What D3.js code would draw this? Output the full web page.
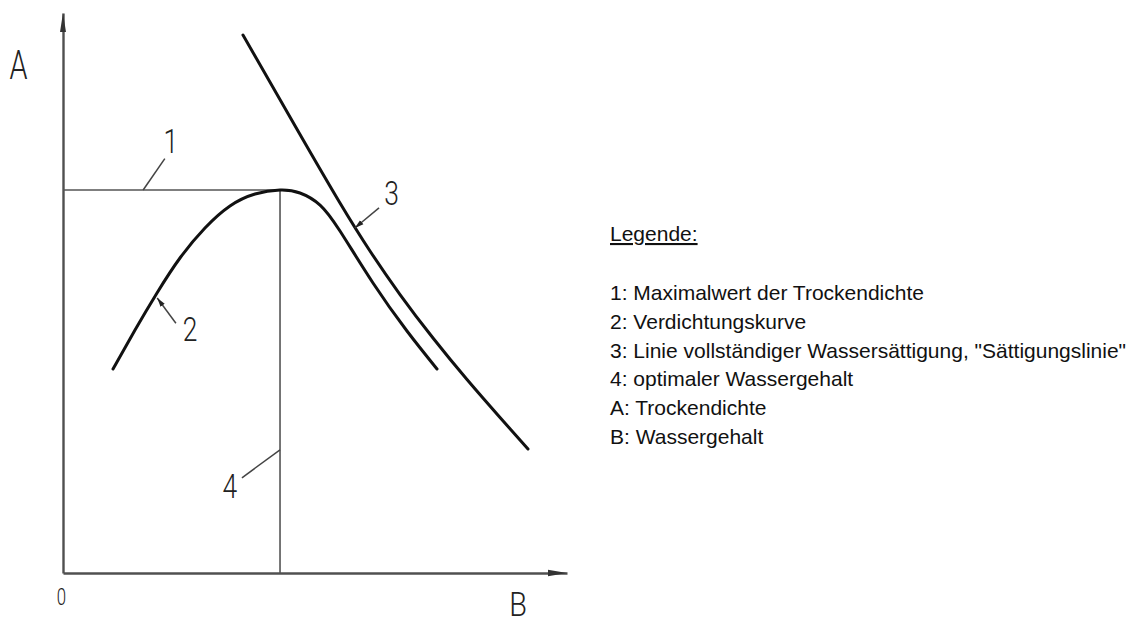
<!DOCTYPE html>
<html>
<head>
<meta charset="utf-8">
<script src="https://cdn.jsdelivr.net/npm/d3@7"></script>
<style>
  body { margin: 0; background: #fff; }
</style>
</head>
<body>
<script>
// Proctor diagram: dry density (A) against water content (B), arbitrary units 0..100
const compactionW = [9.92, 14.29, 18.65, 23.21, 28.17, 33.13, 38.10, 43.06, 47.02, 51.0, 54.96, 61.51, 68.25, 74.21];
const compactionRho = [36.43, 43.39, 50.0, 56.25, 61.61, 65.54, 67.68, 68.39, 67.86, 65.71, 61.07, 51.79, 43.21, 36.43];

const saturationW = [35.71, 46.63, 54.96, 60.91, 66.87, 73.41, 80.16, 86.71, 92.26];
const saturationRho = [96.07, 78.93, 66.07, 57.50, 49.73, 41.96, 34.55, 27.77, 22.14];

const optimumW = 43.06;
const maxRho = 68.39;

// callouts: number, point on the line, end of leader, label position, arrow?
const calloutLabels = ["1", "2", "3", "4"];
const calloutTip = [[15.9, 68.39], [18.7, 49.1], [57.9, 61.6], [43.06, 22.0]];
const calloutEnd = [[20.2, 74.0], [22.4, 44.6], [62.7, 65.2], [35.5, 17.0]];
const calloutText = [[21.4, 77.2], [25.2, 43.6], [65.2, 67.9], [33.1, 15.6]];
const calloutArrow = [false, true, true, false];

const legendTitle = "Legende:";
const legendItems = [
  "1: Maximalwert der Trockendichte",
  "2: Verdichtungskurve",
  "3: Linie vollständiger Wassersättigung, \"Sättigungslinie\"",
  "4: optimaler Wassergehalt",
  "A: Trockendichte",
  "B: Wassergehalt"
];

const width = 1138;
const height = 624;
const techFont = "Roboto, 'DejaVu Sans', sans-serif";
const textFont = "'Liberation Sans', Arial, sans-serif";

const x = d3.scaleLinear().domain([0, 100]).range([63, 567]);
const y = d3.scaleLinear().domain([0, 100]).range([573, 13]);

const svg = d3.select("body").append("svg")
  .attr("width", width)
  .attr("height", height)
  .style("display", "block");

svg.append("defs").append("marker")
  .attr("id", "tip")
  .attr("viewBox", "0 -3 9 6")
  .attr("refX", 9)
  .attr("refY", 0)
  .attr("markerWidth", 9)
  .attr("markerHeight", 6)
  .attr("markerUnits", "userSpaceOnUse")
  .attr("orient", "auto")
  .append("path")
  .attr("d", "M0,-2.6L9,0L0,2.6Z")
  .style("fill", "#222");

// axes without ticks, arrowheads on the far ends
const xAxis = svg.append("g")
  .attr("transform", `translate(0,${y(0)})`)
  .call(d3.axisBottom(x).tickValues([]).tickSizeOuter(0));
const yAxis = svg.append("g")
  .attr("transform", `translate(${x(0)},0)`)
  .call(d3.axisLeft(y).tickValues([]).tickSizeOuter(0));
[xAxis, yAxis].forEach(g => g.select(".domain")
  .style("stroke", "#505050")
  .attr("stroke-width", 2.4));

svg.append("path")
  .attr("d", `M${x(100)},${y(0)}L${x(100) - 19},${y(0) - 3.3}L${x(100) - 19},${y(0) + 3.3}Z`)
  .style("fill", "#333");
svg.append("path")
  .attr("d", `M${x(0)},${y(100)}L${x(0) - 3},${y(100) + 19}L${x(0) + 3},${y(100) + 19}Z`)
  .style("fill", "#333");

// max dry density and optimum water content
svg.append("line")
  .attr("x1", x(0)).attr("y1", y(maxRho))
  .attr("x2", x(optimumW)).attr("y2", y(maxRho))
  .style("stroke", "#555")
  .attr("stroke-width", 1.6);
svg.append("line")
  .attr("x1", x(optimumW)).attr("y1", y(0))
  .attr("x2", x(optimumW)).attr("y2", y(maxRho))
  .style("stroke", "#555")
  .attr("stroke-width", 1.6);

const line = d3.line()
  .x(d => x(d[0]))
  .y(d => y(d[1]))
  .curve(d3.curveNatural);

svg.append("path")
  .attr("d", line(d3.zip(compactionW, compactionRho)))
  .style("fill", "none")
  .style("stroke", "#111")
  .attr("stroke-width", 3)
  .attr("stroke-linecap", "round");

svg.append("path")
  .attr("d", line(d3.zip(saturationW, saturationRho)))
  .style("fill", "none")
  .style("stroke", "#111")
  .attr("stroke-width", 3)
  .attr("stroke-linecap", "round");

function techLabel(text, cx, cy, size, sx) {
  svg.append("text")
    .attr("transform", `translate(${cx},${cy}) scale(${sx},1)`)
    .attr("text-anchor", "middle")
    .attr("dy", "0.36em")
    .style("font-family", techFont)
    .style("font-weight", 300)
    .attr("font-size", size + "px")
    .style("fill", "#222")
    .text(text);
}

calloutLabels.forEach((label, i) => {
  const leader = svg.append("line")
    .attr("x1", x(calloutEnd[i][0])).attr("y1", y(calloutEnd[i][1]))
    .attr("x2", x(calloutTip[i][0])).attr("y2", y(calloutTip[i][1]))
    .style("stroke", "#444")
    .attr("stroke-width", 1.5);
  if (calloutArrow[i]) leader.attr("marker-end", "url(#tip)");
  techLabel(label, x(calloutText[i][0]), y(calloutText[i][1]), 33, 0.8);
});

techLabel("A", x(0) - 44.5, y(90.7), 40, 0.72);
techLabel("B", x(90.3), y(0) + 30.5, 34, 0.85);
techLabel("0", x(0) - 1.5, y(0) + 23, 24, 0.7);

// legend
const legend = svg.append("g").attr("transform", "translate(610,0)");
legend.append("text")
  .attr("x", 0)
  .attr("y", 241)
  .style("font-family", textFont)
  .attr("font-size", "21px")
  .style("fill", "#111")
  .style("text-decoration", "underline")
  .text(legendTitle);
legend.selectAll("text.item")
  .data(legendItems)
  .join("text")
  .attr("class", "item")
  .attr("x", 0)
  .attr("y", (d, i) => 300 + i * 28.8)
  .style("font-family", textFont)
  .attr("font-size", "21px")
  .style("fill", "#111")
  .text(d => d);
</script>
</body>
</html>
